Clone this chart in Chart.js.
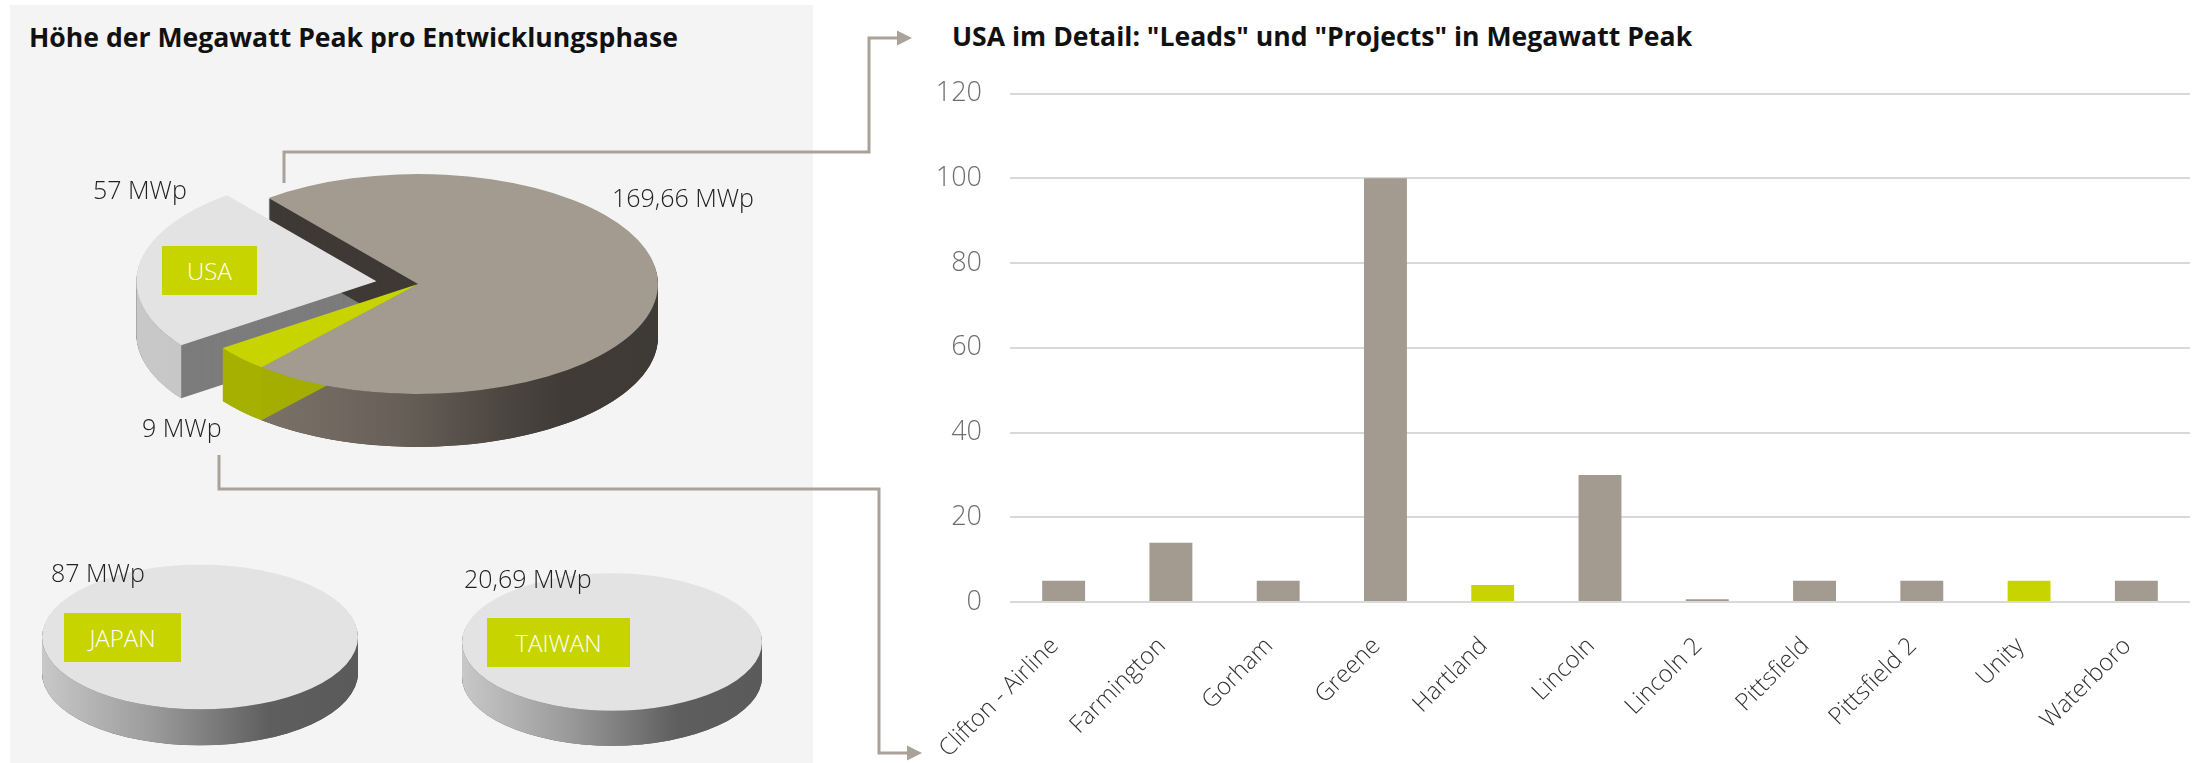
<!DOCTYPE html>
<html lang="de">
<head>
<meta charset="utf-8">
<script src="https://cdn.jsdelivr.net/npm/chart.js@4.4.1/dist/chart.umd.min.js"></script>
<style>
  html, body { margin: 0; padding: 0; background: #fff; }
  body { width: 2199px; height: 763px; position: relative; overflow: hidden; font-family: "Open Sans", sans-serif; }
  .abs { position: absolute; }
  #panel { left: 10px; top: 5px; width: 803px; height: 758px; background: #f4f4f4; }
  .title { font-weight: 700; font-size: 26.6px; line-height: 1.362; color: #111; white-space: nowrap; }
  .val { font-weight: 300; font-size: 25px; line-height: 1.362; color: #222; white-space: nowrap; }
  .tag { background: #c8d400; color: #fff; font-weight: 300; font-size: 24px; height: 49px;
         display: flex; align-items: center; justify-content: center; }
  canvas { position: absolute; }
  svg { position: absolute; left: 0; top: 0; }
</style>
</head>
<body>
<div id="panel" class="abs"></div>
<div class="abs title" style="left:29px; top:19px;">Höhe der Megawatt Peak pro Entwicklungsphase</div>
<div class="abs title" style="left:952px; top:18px;">USA im Detail: "Leads" und "Projects" in Megawatt Peak</div>

<canvas id="pieUSA"></canvas>
<canvas id="pieJapan"></canvas>
<canvas id="pieTaiwan"></canvas>
<canvas id="bars" width="1299" height="703" style="left:900px; top:60px;"></canvas>

<div class="abs val" style="left:93px; top:172px;">57 MWp</div>
<div class="abs val" style="left:612px; top:180px;">169,66 MWp</div>
<div class="abs val" style="left:142px; top:410px;">9 MWp</div>
<div class="abs val" style="left:51px; top:555px;">87 MWp</div>
<div class="abs val" style="left:464px; top:561px;">20,69 MWp</div>

<div class="abs tag" style="left:162px; top:246px; width:95px;">USA</div>
<div class="abs tag" style="left:64px; top:613px; width:117px;">JAPAN</div>
<div class="abs tag" style="left:487px; top:618px; width:143px;">TAIWAN</div>

<svg width="2199" height="763">
  <g fill="none" stroke="#aaa198" stroke-width="3">
    <polyline points="284,183 284,152 869,152 869,38 899,38"/>
    <polyline points="219,455 219,489 879,489 879,753 909,753"/>
  </g>
  <g fill="#aaa198">
    <polygon points="897,30.5 912,38 897,45.5"/>
    <polygon points="907,745.5 922,753 907,760.5"/>
  </g>
</svg>

<script>
/* --------------- Kreise: MWp pro Entwicklungsphase --------------- */
const phasen = ['Leads', 'Projects', 'Weitere'];
const usaMWp = [169.66, 9, 57];
const japanMWp = [87];
const taiwanMWp = [20.69];

/* --------------- Balken: USA im Detail --------------- */
const standorte = ['Clifton - Airline', 'Farmington', 'Gorham', 'Greene', 'Hartland', 'Lincoln',
                   'Lincoln 2', 'Pittsfield', 'Pittsfield 2', 'Unity', 'Waterboro'];
const standortMWp = [5, 14, 5, 100, 4, 30, 0.66, 5, 5, 5, 5];
const standortPhase = ['Leads', 'Leads', 'Leads', 'Leads', 'Projects', 'Leads',
                       'Leads', 'Leads', 'Leads', 'Projects', 'Leads'];
const yTicks = [0, 20, 40, 60, 80, 100, 120];

const farbe = { Leads: '#a39a90', Projects: '#c8d400', Weitere: '#e3e3e3' };
const FONT = 'Open Sans';
const TILT = 0.458;

/* --------------- 3D look for the pies (squash + side walls) --------------- */
const pie3d = {
  id: 'pie3d',
  beforeDatasetsDraw(chart, args, opts) {
    const ctx = chart.ctx;
    const arcs = chart.getDatasetMeta(0).data;
    const k = opts.tilt, depth = opts.depth;
    const cy0 = (chart.chartArea.top + chart.chartArea.bottom) / 2;
    const order = opts.order || arcs.map((a, i) => i);

    order.forEach(i => {
      const arc = arcs[i];
      const off = (arc.options.offset || 0) / 4;
      const mid = (arc.startAngle + arc.endAngle) / 2;
      const cx = arc.x + Math.cos(mid) * off;
      const sy = cy0 + (arc.y + Math.sin(mid) * off - cy0) * k;
      const r = arc.outerRadius;
      const full = arc.endAngle - arc.startAngle >= Math.PI * 2 - 1e-6;

      // body (gives the cut faces)
      ctx.save();
      ctx.fillStyle = opts.cut[i];
      for (let d = depth; d >= 1; d--) {
        ctx.beginPath();
        if (full) {
          ctx.ellipse(cx, sy + d, r, r * k, 0, 0, Math.PI * 2);
        } else {
          ctx.moveTo(cx, sy + d);
          ctx.ellipse(cx, sy + d, r, r * k, 0, arc.startAngle, arc.endAngle);
          ctx.closePath();
        }
        ctx.fill();
      }

      // outer wall, front half only
      const grad = ctx.createLinearGradient(cx - r, 0, cx + r, 0);
      opts.wall[i].forEach(s => grad.addColorStop(s[0], s[1]));
      ctx.fillStyle = grad;
      for (let n = -1; n <= 1; n++) {
        const s = Math.max(arc.startAngle, 2 * Math.PI * n);
        const e = Math.min(arc.endAngle, 2 * Math.PI * n + Math.PI);
        if (e <= s) continue;
        ctx.beginPath();
        ctx.ellipse(cx, sy, r, r * k, 0, s, e);
        ctx.ellipse(cx, sy + depth, r, r * k, 0, e, s, true);
        ctx.closePath();
        ctx.fill();
      }
      ctx.restore();
    });

    ctx.save();
    ctx.translate(0, cy0);
    ctx.scale(1, k);
    ctx.translate(0, -cy0);
  },
  afterDatasetsDraw(chart) {
    chart.ctx.restore();
  }
};

function makePie(id, cx, cy, r, labels, values, colors, extra) {
  const cv = document.getElementById(id);
  const size = Math.round(2 * r + 160);
  cv.width = size;
  cv.height = size;
  cv.style.left = (cx - size / 2) + 'px';
  cv.style.top = (cy - size / 2) + 'px';
  return new Chart(cv, {
    type: 'pie',
    data: {
      labels: labels,
      datasets: [{
        data: values,
        backgroundColor: colors,
        borderWidth: 0,
        offset: extra.offset || 0,
        clip: false
      }]
    },
    options: {
      responsive: false,
      animation: false,
      events: [],
      rotation: extra.rotation || 0,
      radius: r,
      layout: { padding: 0 },
      plugins: {
        legend: { display: false },
        tooltip: { enabled: false },
        pie3d: { tilt: TILT, depth: extra.depth, cut: extra.cut, wall: extra.wall, order: extra.order }
      }
    },
    plugins: [pie3d]
  });
}

const grauWand = [[0, '#8c8279'], [0.16, '#7c726a'], [0.46, '#686058'], [0.67, '#4d4742'], [0.8, '#403b37'], [1, '#3e3a36']];
const hellWand = [[0, '#c8c8c8'], [1, '#bdbdbd']];
const gruenWand = [[0, '#a6b000'], [1, '#a6b000']];
const rundWand = [[0, '#c8c8c8'], [0.35, '#9b9b9b'], [0.72, '#5e5e5e'], [1, '#5a5a5a']];

function draw() {
  makePie('pieUSA', 418, 284, 240, phasen, usaMWp, phasen.map(p => farbe[p]), {
    rotation: -38.5,
    offset: [0, 0, 168],
    depth: 53,
    cut: ['#3f3a36', '#a4ae00', '#7c7c7c'],
    wall: [grauWand, gruenWand, hellWand],
    order: [2, 0, 1]
  });
  makePie('pieJapan', 200, 637, 158, ['Japan'], japanMWp, ['#e3e3e3'], {
    depth: 36, cut: ['#5e5e5e'], wall: [rundWand]
  });
  makePie('pieTaiwan', 612, 642, 150, ['Taiwan'], taiwanMWp, ['#e3e3e3'], {
    depth: 35, cut: ['#5e5e5e'], wall: [rundWand]
  });

  new Chart(document.getElementById('bars'), {
    type: 'bar',
    data: {
      labels: standorte,
      datasets: [{
        data: standortMWp,
        backgroundColor: standortPhase.map(p => farbe[p]),
        borderWidth: 0,
        barPercentage: 0.4,
        categoryPercentage: 1
      }]
    },
    options: {
      responsive: false,
      animation: false,
      events: [],
      layout: { padding: { top: 33.5, right: 9, left: 0, bottom: 0 } },
      plugins: { legend: { display: false }, tooltip: { enabled: false } },
      scales: {
        x: {
          grid: { display: false, drawTicks: false },
          border: { display: false },
          ticks: {
            minRotation: 45, maxRotation: 45, autoSkip: false, padding: 30, labelOffset: -9,
            color: '#333', font: { family: FONT, weight: 300, size: 24 }
          },
          afterFit: s => { s.height = 161; }
        },
        y: {
          min: 0, max: 120,
          afterBuildTicks: s => { s.ticks = yTicks.map(v => ({ value: v })); },
          grid: { color: '#d9d9d9', lineWidth: 2, drawTicks: false },
          border: { display: false },
          ticks: { padding: 28, color: '#6e6e6e', font: { family: FONT, weight: 300, size: 27 } },
          afterFit: s => { s.width = 110; s.paddingTop = 0; s.paddingBottom = 0; }
        }
      }
    }
  });
}

Promise.all([
  document.fonts.load('300 24px "Open Sans"'),
  document.fonts.load('700 26px "Open Sans"')
]).then(draw, draw);
</script>
</body>
</html>
